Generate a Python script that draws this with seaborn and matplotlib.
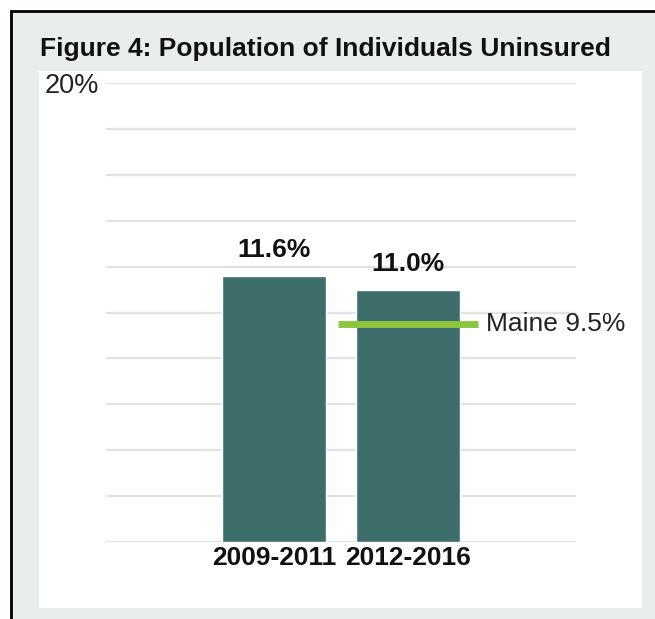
import matplotlib
matplotlib.use("Agg")
import matplotlib.pyplot as plt
from matplotlib.patches import Rectangle
import seaborn as sns
import pandas as pd

# ---- data ----
periods = ["2009-2011", "2012-2016"]
uninsured_pct = [11.6, 11.0]
value_labels = ["11.6%", "11.0%"]
maine_pct = 9.5
maine_label = "Maine 9.5%"
title = "Figure 4: Population of Individuals Uninsured"
y_ticks = [0, 2, 4, 6, 8, 10, 12, 14, 16, 18, 20]
y_tick_labels = ["", "", "", "", "", "", "", "", "", "", "20%"]

sns.set_style("white")
plt.rcParams["font.family"] = ["Liberation Sans", "DejaVu Sans"]

W, H = 655, 619
fig = plt.figure(figsize=(W / 100, H / 100), dpi=100, facecolor="white")

def fx(px):
    return px / W

def fy(py):  # top-down pixel -> figure fraction
    return (H - py) / H

# outer gray frame with black border (top/left visible)
fig.add_artist(Rectangle((fx(11), -0.1), 1.0, fy(11) + 0.1, transform=fig.transFigure,
                         facecolor="#e9edee", edgecolor="black", lw=2, zorder=-3))
# white panel
fig.add_artist(Rectangle((fx(39), fy(608)), fx(642 - 39), (608 - 71) / H,
                         transform=fig.transFigure, facecolor="white",
                         edgecolor="none", zorder=-2))

fig.text(fx(40), fy(56), title, fontsize=19, fontweight="bold", color="#111111",
         ha="left", va="baseline")

ax = fig.add_axes([fx(106), fy(542), fx(576 - 106), (542 - 83) / H])
ax.set_facecolor("none")

df = pd.DataFrame({"period": periods, "pct": uninsured_pct})
sns.barplot(data=df, x="period", y="pct", color="#3e6e6c", width=0.78,
            saturation=1, ax=ax, zorder=2)

ax.set_ylim(0, 20)
ax.set_xlim(-1.254, 2.254)
ax.set_yticks(y_ticks)
ax.set_yticklabels(y_tick_labels, fontsize=19.5, color="#222222")
ax.yaxis.grid(True, color="#e2e2e2", lw=1.6)
ax.set_axisbelow(True)
for s in ax.spines.values():
    s.set_visible(False)
ax.tick_params(axis="both", length=0)
ax.tick_params(axis="y", pad=5)
ax.tick_params(axis="x", pad=3)
for lab in ax.get_xticklabels():
    lab.set_fontweight("bold")
    lab.set_fontsize(19)
    lab.set_color("#111111")
ax.set_xlabel("")
ax.set_ylabel("")

for i, (v, t) in enumerate(zip(uninsured_pct, value_labels)):
    ax.annotate(t, (i, v), xytext=(0, 10), textcoords="offset points",
                ha="center", va="bottom", fontsize=19, fontweight="bold",
                color="#111111")

idx = len(periods) - 1
ax.hlines(maine_pct, idx - 0.52, idx + 0.52, color="#8cc63f", lw=5, zorder=3)
ax.annotate(maine_label, (idx + 0.52, maine_pct), xytext=(6, 0),
            textcoords="offset points", ha="left", va="center", fontsize=19,
            color="#222222", annotation_clip=False)

fig.savefig("out.png", dpi=100, facecolor=fig.get_facecolor())
